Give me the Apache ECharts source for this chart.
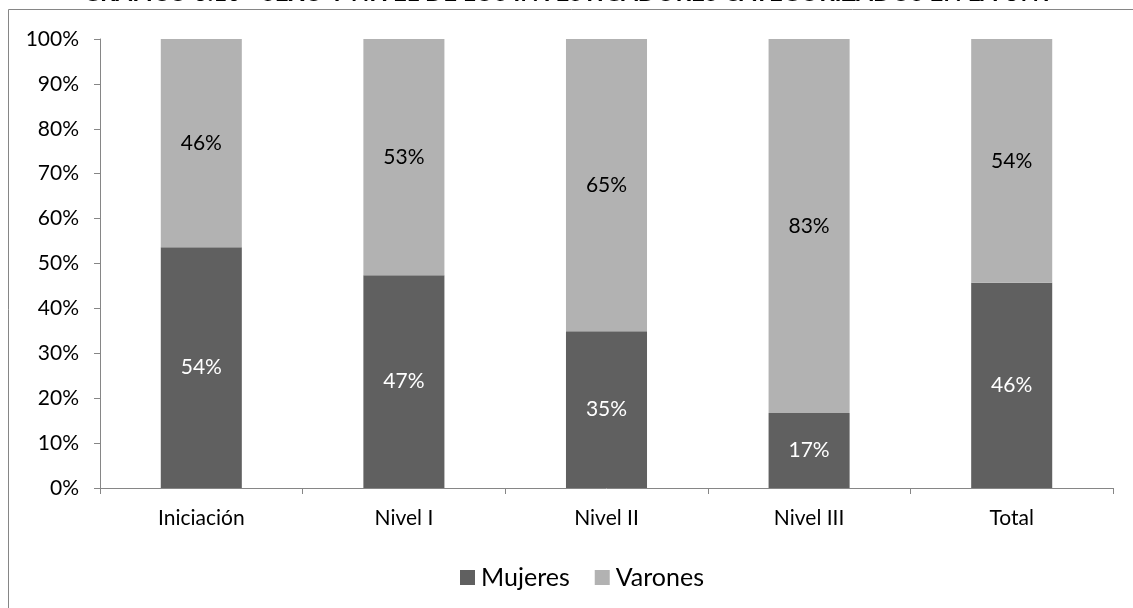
<!DOCTYPE html>
<html><head><meta charset="utf-8">
<script src="https://cdn.jsdelivr.net/npm/echarts@6/dist/echarts.min.js"></script>
<style>html,body{margin:0;padding:0;background:#fff}#c{width:1133px;height:608px}</style>
</head><body><div id="c"></div>
<script>
const titleText = 'GRÁFICO 3.10 - SEXO Y NIVEL DE LOS INVESTIGADORES CATEGORIZADOS EN LA UNT';
const categories = ['Iniciación', 'Nivel I', 'Nivel II', 'Nivel III', 'Total'];
const mujeres = [53.6, 47.4, 34.9, 16.7, 45.7];
const varones = [46.4, 52.6, 65.1, 83.3, 54.3];
const yTicks = [0, 10, 20, 30, 40, 50, 60, 70, 80, 90, 100];

const font = 'Lato, "Open Sans", sans-serif';
const chart = echarts.init(document.getElementById('c'), null, {renderer: 'canvas'});
chart.setOption({
  animation: false,
  graphic: [
    {type: 'rect', shape: {x: 8.5, y: 9.5, width: 1140, height: 620}, style: {fill: 'none', stroke: '#868686', lineWidth: 1}, z: -1},
    {type: 'text', x: 568, y: -7, style: {text: titleText, font: 'bold 24px ' + font, fill: '#000', align: 'center', verticalAlign: 'middle'}}
  ],
  legend: {
    top: 560, left: 455, itemWidth: 15, itemHeight: 15, itemGap: 25,
    icon: 'rect',
    textStyle: {fontFamily: font, fontSize: 25, color: '#000', padding: [0, 0, 0, 1]},
    data: ['Mujeres', 'Varones']
  },
  grid: {left: 100, right: 20, top: 39, bottom: 120, containLabel: false},
  xAxis: {
    type: 'category', data: categories,
    axisLine: {lineStyle: {color: '#868686'}},
    axisTick: {show: true, length: 6, lineStyle: {color: '#868686'}},
    axisLabel: {fontFamily: font, fontSize: 21, color: '#000', margin: 20}
  },
  yAxis: {
    type: 'value', min: 0, max: 100, interval: 10,
    axisLine: {show: true, lineStyle: {color: '#868686'}},
    axisTick: {show: true, length: 6, lineStyle: {color: '#868686'}},
    splitLine: {show: false},
    axisLabel: {fontFamily: font, fontSize: 21, color: '#000', margin: 21,
      formatter: v => yTicks.includes(v) ? v + '%' : ''}
  },
  series: [
    {name: 'Mujeres', type: 'bar', stack: 's', data: mujeres, barWidth: '40%',
      itemStyle: {color: '#606060'},
      label: {show: true, position: 'inside', color: '#ffffff', fontFamily: font, fontSize: 21,
        formatter: p => Math.round(p.value) + '%'}},
    {name: 'Varones', type: 'bar', stack: 's', data: varones, barWidth: '40%',
      itemStyle: {color: '#b2b2b2'},
      label: {show: true, position: 'inside', color: '#000', fontFamily: font, fontSize: 21,
        formatter: p => Math.round(p.value) + '%'}}
  ]
});
</script></body></html>
